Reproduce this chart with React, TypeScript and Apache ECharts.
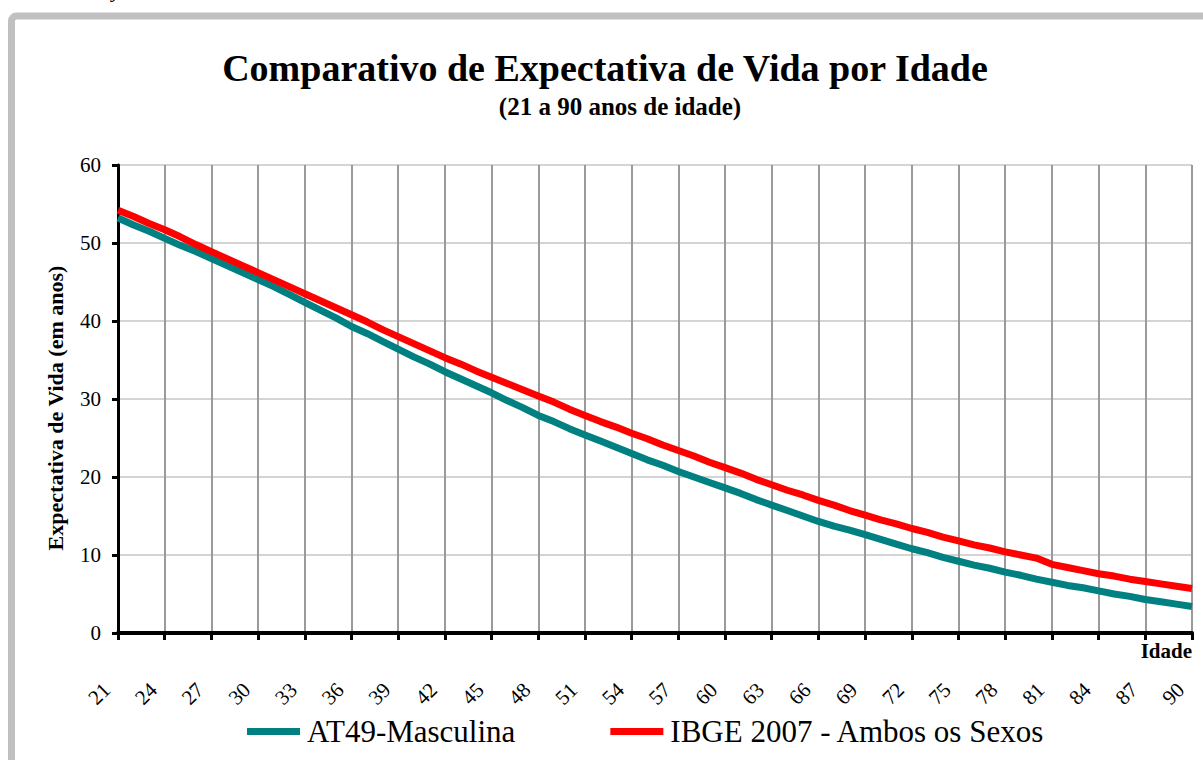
import React, { useEffect, useRef } from "react";
import * as echarts from "echarts";

const ages = [
  "21","22","23","24","25","26","27","28","29","30",
  "31","32","33","34","35","36","37","38","39","40",
  "41","42","43","44","45","46","47","48","49","50",
  "51","52","53","54","55","56","57","58","59","60",
  "61","62","63","64","65","66","67","68","69","70",
  "71","72","73","74","75","76","77","78","79","80",
  "81","82","83","84","85","86","87","88","89","90",
];

const at49Masculina = [
  53.2, 52.3, 51.5, 50.6, 49.7, 48.9, 48.0, 47.1, 46.2, 45.3,
  44.4, 43.4, 42.4, 41.4, 40.4, 39.3, 38.4, 37.4, 36.4, 35.4,
  34.5, 33.5, 32.6, 31.7, 30.8, 29.8, 28.9, 27.9, 27.1, 26.2,
  25.4, 24.6, 23.8, 23.0, 22.2, 21.5, 20.7, 20.0, 19.3, 18.6,
  17.9, 17.1, 16.4, 15.7, 15.0, 14.3, 13.7, 13.2, 12.6, 12.0,
  11.4, 10.8, 10.3, 9.7, 9.2, 8.7, 8.3, 7.8, 7.4, 6.9,
  6.5, 6.1, 5.8, 5.4, 5.0, 4.7, 4.3, 4.0, 3.7, 3.4,
];

const ibge2007 = [
  54.2, 53.4, 52.5, 51.7, 50.8, 49.8, 48.9, 48.0, 47.1, 46.2,
  45.3, 44.4, 43.5, 42.6, 41.7, 40.8, 39.9, 38.9, 38.0, 37.1,
  36.2, 35.3, 34.5, 33.6, 32.8, 32.0, 31.2, 30.4, 29.6, 28.7,
  27.9, 27.1, 26.4, 25.6, 24.9, 24.1, 23.4, 22.7, 21.9, 21.2,
  20.5, 19.7, 19.0, 18.3, 17.7, 17.0, 16.4, 15.7, 15.1, 14.5,
  14.0, 13.4, 12.9, 12.3, 11.8, 11.3, 10.9, 10.4, 10.0, 9.6,
  8.8, 8.4, 8.0, 7.6, 7.3, 6.9, 6.6, 6.3, 6.0, 5.7,
];

const seriesNames = ["AT49-Masculina", "IBGE 2007 - Ambos os Sexos"];
const titleText = "Comparativo de Expectativa de Vida por Idade";
const subtitleText = "(21 a 90 anos de idade)";
const yAxisName = "Expectativa de Vida (em anos)";
const xAxisName = "Idade";

const FONT = "Liberation Serif, Times New Roman, serif";

export default function App() {
  const ref = useRef<HTMLDivElement>(null);
  useEffect(() => {
    document.body.style.margin = "0";
    if (!ref.current) return;
    const chart = echarts.init(ref.current, null, { renderer: "svg" });
    chart.setOption({
      animation: false,
      backgroundColor: "#ffffff",
      legend: {
        data: seriesNames,
        left: 242,
        top: 711,
        itemWidth: 53,
        itemHeight: 7,
        itemGap: 95,
        icon: "rect",
        textStyle: { fontFamily: FONT, fontSize: 31, color: "#000", padding: [0, 0, 0, 2] },
      },
      grid: { left: 118, right: 11, top: 165, bottom: 127 },
      xAxis: {
        type: "category",
        data: ages,
        boundaryGap: false,
        axisLine: { lineStyle: { color: "#000", width: 4 } },
        axisTick: { interval: 2, length: 7, lineStyle: { color: "#000", width: 3 } },
        axisLabel: {
          interval: 2,
          rotate: 45,
          margin: 42,
          padding: [0, 16, 0, 0],
          fontFamily: FONT,
          fontSize: 21,
          color: "#000",
        },
        splitLine: { show: true, interval: 2, lineStyle: { color: "#9a9a9a", width: 2 } },
      },
      yAxis: {
        type: "value",
        min: 0,
        max: 60,
        interval: 10,
        axisLine: { show: true, lineStyle: { color: "#000", width: 3 } },
        axisTick: { show: true, length: 6, lineStyle: { color: "#000", width: 3 } },
        axisLabel: { fontFamily: FONT, fontSize: 21, color: "#000", margin: 17 },
        splitLine: { show: true, lineStyle: { color: "#d4d4d4", width: 2 } },
      },
      series: [
        {
          name: seriesNames[0],
          type: "line",
          data: at49Masculina,
          showSymbol: false,
          symbol: "none",
          color: "#008080",
          lineStyle: { color: "#008080", width: 7 },
        },
        {
          name: seriesNames[1],
          type: "line",
          data: ibge2007,
          showSymbol: false,
          symbol: "none",
          color: "#ff0000",
          lineStyle: { color: "#ff0000", width: 7 },
        },
      ],
      graphic: [
        {
          type: "rect",
          shape: { x: 11.5, y: 16, width: 1260, height: 820, r: 5 },
          style: { fill: "none", stroke: "#c0c0c0", lineWidth: 7 },
          silent: true,
          z: -10,
        },
        {
          type: "text",
          x: 112,
          y: 0,
          style: {
            text: "y",
            font: "italic 22px " + FONT,
            fill: "#000",
            textVerticalAlign: "bottom",
          },
        },
        {
          type: "text",
          x: 605,
          y: 68,
          style: {
            text: titleText,
            font: "bold 38px " + FONT,
            fill: "#000",
            textAlign: "center",
            textVerticalAlign: "middle",
          },
        },
        {
          type: "text",
          x: 620,
          y: 106,
          style: {
            text: subtitleText,
            font: "bold 25px " + FONT,
            fill: "#000",
            textAlign: "center",
            textVerticalAlign: "middle",
          },
        },
        {
          type: "text",
          x: 55,
          y: 408,
          rotation: Math.PI / 2,
          style: {
            text: yAxisName,
            font: "bold 22px " + FONT,
            fill: "#000",
            textAlign: "center",
            textVerticalAlign: "middle",
          },
        },
        {
          type: "text",
          x: 1192,
          y: 651,
          style: {
            text: xAxisName,
            font: "bold 21px " + FONT,
            fill: "#000",
            textAlign: "right",
            textVerticalAlign: "middle",
          },
        },
      ],
    });
    return () => chart.dispose();
  }, []);
  return <div ref={ref} style={{ width: 1203, height: 760 }} />;
}
